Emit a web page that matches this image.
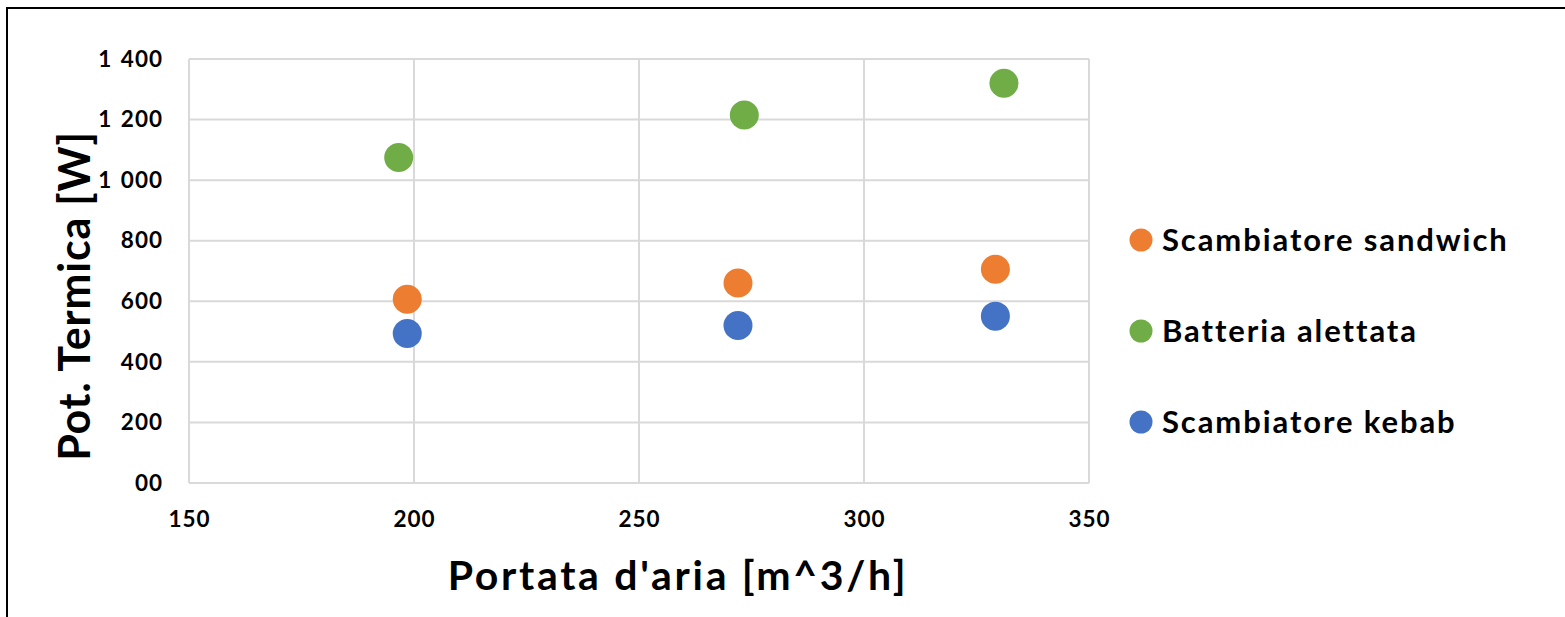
<!DOCTYPE html>
<html>
<head>
<meta charset="utf-8">
<script src="https://cdn.jsdelivr.net/npm/d3@7"></script>
<style>
	html, body { margin: 0; padding: 0; background: #fff; }
	svg { display: block; font-family: Lato, "Open Sans", sans-serif; font-weight: bold; }
</style>
</head>
<body>
<div id="chart"></div>
<script>
// series data
const seriesNames = ["Scambiatore sandwich", "Batteria alettata", "Scambiatore kebab"];
const seriesColors = ["#ED7D31", "#70AD47", "#4472C4"];
const sandwichX = [198.5, 272, 329.2];
const sandwichY = [607, 660, 706];
const batteriaX = [196.6, 273.4, 331.1];
const batteriaY = [1075, 1215, 1320];
const kebabX = [198.5, 272, 329.2];
const kebabY = [494, 520, 551];

const xTicks = [150, 200, 250, 300, 350];
const xTickLabels = ["150", "200", "250", "300", "350"];
const yTicks = [0, 200, 400, 600, 800, 1000, 1200, 1400];
const yTickLabels = ["00", "200", "400", "600", "800", "1 000", "1 200", "1 400"];

const width = 1565;
const height = 617;
const margin = { left: 189, top: 59, right: 476, bottom: 134 };

const svg = d3
	.select("#chart")
	.append("svg")
	.attr("width", width)
	.attr("height", height)
	.attr("viewBox", `0 0 ${width} ${height}`);

// outer frame (cut by the picture on the right and bottom)
svg
	.append("rect")
	.attr("x", 7)
	.attr("y", 8)
	.attr("width", width + 20)
	.attr("height", height + 20)
	.attr("fill", "none")
	.attr("stroke", "#000")
	.attr("stroke-width", 2);

const x = d3
	.scaleLinear()
	.domain([150, 350])
	.range([margin.left, width - margin.right]);

const y = d3
	.scaleLinear()
	.domain([0, 1400])
	.range([height - margin.bottom, margin.top]);

const grid = svg.append("g").attr("class", "grid");

grid
	.selectAll("line.v")
	.data(xTicks)
	.enter()
	.append("line")
	.attr("class", "v")
	.attr("x1", d => x(d))
	.attr("x2", d => x(d))
	.attr("y1", y(0))
	.attr("y2", y(1400))
	.attr("stroke", "#d9d9d9")
	.attr("stroke-width", 2);

grid
	.selectAll("line.h")
	.data(yTicks)
	.enter()
	.append("line")
	.attr("class", "h")
	.attr("x1", x(150))
	.attr("x2", x(350))
	.attr("y1", d => y(d))
	.attr("y2", d => y(d))
	.attr("stroke", "#d9d9d9")
	.attr("stroke-width", 2);

// axes, lines hidden, labels only
const xAxis = svg
	.append("g")
	.attr("transform", `translate(0, ${y(0)})`)
	.call(
		d3
			.axisBottom(x)
			.tickValues(xTicks)
			.tickFormat((d, i) => xTickLabels[i])
			.tickSize(0)
			.tickPadding(28)
	);

const yAxis = svg
	.append("g")
	.attr("transform", `translate(${x(150)}, 0)`)
	.call(
		d3
			.axisLeft(y)
			.tickValues(yTicks)
			.tickFormat((d, i) => yTickLabels[i])
			.tickSize(0)
			.tickPadding(26)
	);

[xAxis, yAxis].forEach(a => {
	a.select(".domain").remove();
	a.selectAll("text")
		.attr("fill", "#000")
		.style("font-family", "Lato, 'Open Sans', sans-serif")
		.style("font-weight", "bold")
		.style("font-size", "22.5px")
		.style("letter-spacing", "1px")
		.style("word-spacing", "2px");
});

// points
const allSeries = [
	{ name: seriesNames[0], color: seriesColors[0], xs: sandwichX, ys: sandwichY },
	{ name: seriesNames[1], color: seriesColors[1], xs: batteriaX, ys: batteriaY },
	{ name: seriesNames[2], color: seriesColors[2], xs: kebabX, ys: kebabY }
];

allSeries.forEach(s => {
	svg
		.append("g")
		.selectAll("circle")
		.data(s.xs.map((v, i) => [v, s.ys[i]]))
		.enter()
		.append("circle")
		.attr("cx", d => x(d[0]))
		.attr("cy", d => y(d[1]))
		.attr("r", 14.5)
		.attr("fill", s.color);
});

// axis titles
svg
	.append("text")
	.attr("x", 678)
	.attr("y", 590)
	.attr("text-anchor", "middle")
	.attr("font-size", "41px")
	.style("letter-spacing", "2.7px")
	.attr("fill", "#000")
	.text("Portata d'aria [m^3/h]");

svg
	.append("text")
	.attr("transform", `translate(90, 296) rotate(-90)`)
	.attr("text-anchor", "middle")
	.attr("font-size", "43px")
	.style("letter-spacing", "0.8px")
	.attr("fill", "#000")
	.text("Pot. Termica [W]");

// legend
const legend = svg
	.append("g")
	.selectAll("g")
	.data(allSeries)
	.enter()
	.append("g")
	.attr("transform", (d, i) => `translate(1141, ${240 + i * 91})`);

legend
	.append("circle")
	.attr("r", 11.5)
	.attr("fill", d => d.color);

legend
	.append("text")
	.attr("x", 21)
	.attr("y", 11)
	.attr("font-size", "31px")
	.style("letter-spacing", "1.9px")
	.attr("fill", "#000")
	.text(d => d.name);
</script>
</body>
</html>
